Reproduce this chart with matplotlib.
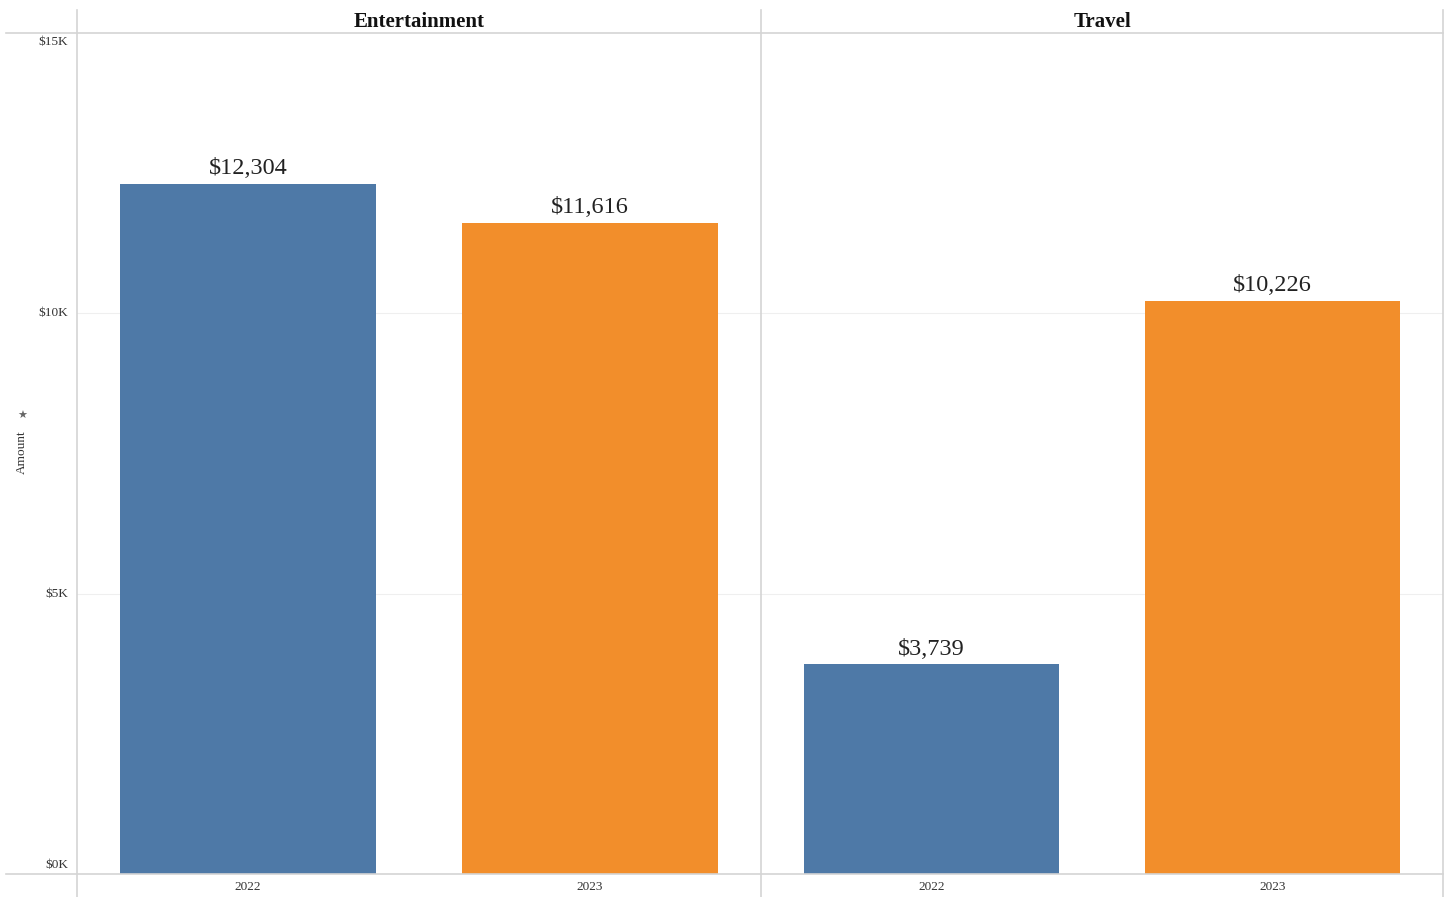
import matplotlib.pyplot as plt
from matplotlib.lines import Line2D

categories = ["Entertainment", "Travel"]
years = ["2022", "2023"]
amounts = {
    "Entertainment": [12304, 11616],
    "Travel": [3739, 10226],
}
colors = ["#4e79a7", "#f28e2b"]
yticks = [0, 5000, 10000, 15000]
ytick_labels = ["$0K", "$5K", "$10K", "$15K"]

plt.rcParams["font.family"] = ["Liberation Serif", "DejaVu Serif"]

W, H = 1452, 897
fig = plt.figure(figsize=(W / 100, H / 100), dpi=100)
line_col = "#d4d4d4"

def fx(px):
    return px / W

def fy(py):
    return 1 - py / H

left, mid, right = 77, 761, 1443
top, bottom = 33, 874

axes = []
for i, cat in enumerate(categories):
    x0 = left if i == 0 else mid
    x1 = mid if i == 0 else right
    ax = fig.add_axes([fx(x0), fy(bottom), fx(x1 - x0), (bottom - top) / H])
    vals = amounts[cat]
    xs = range(len(years))
    ax.bar(xs, vals, width=0.75, color=colors)
    for x, v in zip(xs, vals):
        ax.annotate(f"${v:,}", (x, v), xytext=(0, 3.5), textcoords="offset points",
                    ha="center", va="bottom", fontsize=17.5, color="#222222")
    ax.set_xlim(-0.5, 1.5)
    ax.set_ylim(0, 15000)
    ax.set_yticks([5000, 10000])
    ax.yaxis.grid(True, color="#efefef", linewidth=0.8)
    ax.set_axisbelow(True)
    ax.tick_params(axis="y", length=0, labelleft=False)
    ax.set_xticks(list(xs))
    ax.set_xticklabels(years, fontsize=9.5, color="#333333")
    ax.tick_params(axis="x", length=0, pad=5)
    for s in ax.spines.values():
        s.set_visible(False)
    ax.set_facecolor("none")
    fig.text(fx((x0 + x1) / 2), fy(22), cat, ha="center", va="center",
             fontsize=15, fontweight="bold", color="#111111")
    axes.append(ax)

# y tick labels, drawn in the axis area left of the first panel
ax0 = axes[0]
for v, lab in zip(yticks, ytick_labels):
    va = "center"
    off = 0
    if v == 0:
        va = "bottom"
        off = 2
    elif v == 15000:
        va = "top"
        off = -2
    ax0.annotate(lab, (0, v), xycoords=("axes fraction", "data"),
                 xytext=(-6.5, off), textcoords="offset points",
                 ha="right", va=va, fontsize=9.5, color="#333333")

fig.text(fx(22), fy(452), "Amount", rotation=90, ha="center", va="center",
         fontsize=9.5, color="#333333")
fig.text(fx(22), fy(416), "\u2605", ha="center", va="center",
         fontsize=8, color="#666666", family="DejaVu Sans")

# frame lines
for y in (top, bottom):
    fig.add_artist(Line2D([fx(6), fx(right)], [fy(y), fy(y)], color=line_col, lw=1.2))
for x in (left, mid, right):
    fig.add_artist(Line2D([fx(x), fx(x)], [fy(10), fy(897)], color=line_col, lw=1.2))

fig.savefig("out.png", dpi=100)
